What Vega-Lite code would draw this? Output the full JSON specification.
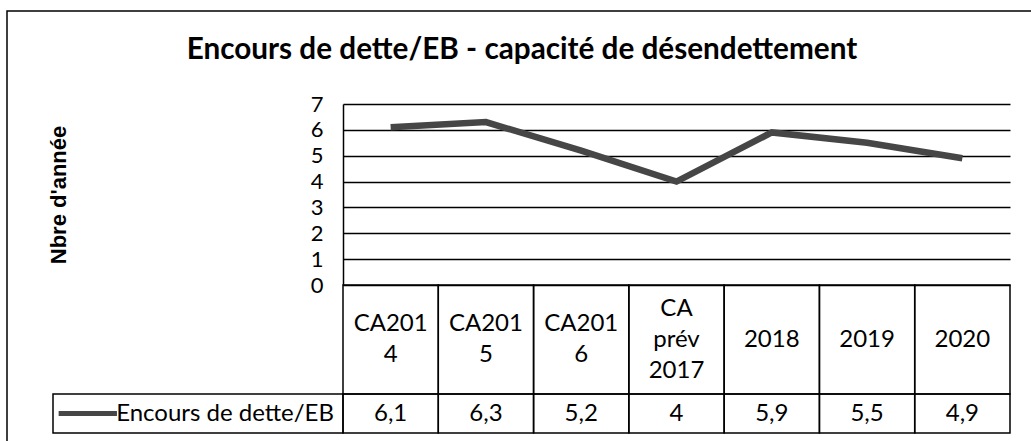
{
  "$schema": "https://vega.github.io/schema/vega-lite/v6.json",
  "width": 1031,
  "height": 441,
  "autosize": {"type": "fit", "contains": "padding"},
  "padding": {"left": 7, "top": 11, "right": -6, "bottom": -6},
  "background": "white",
  "title": {
    "text": "Encours de dette/EB - capacité de désendettement",
    "font": "Lato",
    "fontSize": 29.7,
    "fontWeight": "bold",
    "color": "black",
    "anchor": "middle",
    "frame": "group",
    "baseline": "alphabetic",
    "offset": -78,
    "dx": 0
  },
  "config": {
    "view": {"stroke": "black", "strokeWidth": 1.5},
    "font": "Lato",
    "locale": {"number": {"decimal": ",", "thousands": " ", "grouping": [3], "currency": ["", " €"]}}
  },
  "datasets": {
    "periodes": [
      {"periode": "CA2014", "libelle": "CA201\n4", "valeur": 6.1},
      {"periode": "CA2015", "libelle": "CA201\n5", "valeur": 6.3},
      {"periode": "CA2016", "libelle": "CA201\n6", "valeur": 5.2},
      {"periode": "CA prév 2017", "libelle": "CA\nprév\n2017", "valeur": 4},
      {"periode": "2018", "libelle": "2018", "valeur": 5.9},
      {"periode": "2019", "libelle": "2019", "valeur": 5.5},
      {"periode": "2020", "libelle": "2020", "valeur": 4.9}
    ],
    "legende": [{"serie": "Encours de dette/EB"}]
  },
  "resolve": {
    "scale": {"x": "independent", "y": "independent"},
    "axis": {"x": "independent", "y": "independent"}
  },
  "layer": [
    {
      "data": {"name": "periodes"},
      "mark": {"type": "line", "stroke": "#464646", "strokeWidth": 6.5},
      "encoding": {
        "x": {"field": "periode", "type": "nominal", "axis": null,
          "scale": {"type": "band", "domain": ["CA2014", "CA2015", "CA2016", "CA prév 2017", "2018", "2019", "2020"], "range": [336, 1003], "paddingInner": 0, "paddingOuter": 0}},
        "y": {"field": "valeur", "type": "quantitative",
          "scale": {"domain": [0, 7], "range": [274, 93], "nice": false, "zero": true},
          "axis": {
            "values": [0, 1, 2, 3, 4, 5, 6, 7],
            "offset": -336,
            "grid": true, "gridColor": "black", "gridWidth": 1.5, "gridOpacity": 1,
            "domain": true, "domainColor": "black", "domainWidth": 1.5,
            "ticks": false,
            "labelPadding": 20, "labelFontSize": 22, "labelFont": "Lato", "labelColor": "black",
            "title": "Nbre d'année", "titleFont": "Liberation Sans", "titleFontSize": 22, "titleFontWeight": "bold", "titleColor": "black",
            "titlePadding": 240
          }}
      }
    },
    {
      "data": {"name": "periodes"},
      "mark": {"type": "rect", "fillOpacity": 0, "stroke": "black", "strokeWidth": 1.5},
      "encoding": {
        "x": {"field": "periode", "type": "nominal", "axis": null,
          "scale": {"type": "band", "domain": ["CA2014", "CA2015", "CA2016", "CA prév 2017", "2018", "2019", "2020"], "range": [336, 1003], "paddingInner": 0, "paddingOuter": 0}},
        "y": {"datum": "categories", "type": "nominal", "axis": null,
          "scale": {"type": "band", "domain": ["categories"], "range": [274, 383], "paddingInner": 0, "paddingOuter": 0}}
      }
    },
    {
      "data": {"name": "periodes"},
      "mark": {"type": "text", "fontSize": 24, "lineHeight": 31, "lineBreak": "\n", "font": "Lato", "color": "black", "baseline": "middle",
        "dy": {"expr": "-15.5 * (length(split(datum.libelle, '\\n')) - 1)"}},
      "encoding": {
        "x": {"field": "periode", "type": "nominal", "axis": null,
          "scale": {"type": "band", "domain": ["CA2014", "CA2015", "CA2016", "CA prév 2017", "2018", "2019", "2020"], "range": [336, 1003], "paddingInner": 0, "paddingOuter": 0}},
        "y": {"datum": "categories", "type": "nominal", "axis": null,
          "scale": {"type": "band", "domain": ["categories"], "range": [274, 383], "paddingInner": 0, "paddingOuter": 0}},
        "text": {"field": "libelle", "type": "nominal"}
      }
    },
    {
      "data": {"name": "periodes"},
      "mark": {"type": "rect", "fillOpacity": 0, "stroke": "black", "strokeWidth": 1.5},
      "encoding": {
        "x": {"field": "periode", "type": "nominal", "axis": null,
          "scale": {"type": "band", "domain": ["CA2014", "CA2015", "CA2016", "CA prév 2017", "2018", "2019", "2020"], "range": [336, 1003], "paddingInner": 0, "paddingOuter": 0}},
        "y": {"datum": "valeurs", "type": "nominal", "axis": null,
          "scale": {"type": "band", "domain": ["valeurs"], "range": [383, 422], "paddingInner": 0, "paddingOuter": 0}}
      }
    },
    {
      "data": {"name": "periodes"},
      "mark": {"type": "text", "fontSize": 24, "font": "Lato", "color": "black", "baseline": "middle"},
      "encoding": {
        "x": {"field": "periode", "type": "nominal", "axis": null,
          "scale": {"type": "band", "domain": ["CA2014", "CA2015", "CA2016", "CA prév 2017", "2018", "2019", "2020"], "range": [336, 1003], "paddingInner": 0, "paddingOuter": 0}},
        "y": {"datum": "valeurs", "type": "nominal", "axis": null,
          "scale": {"type": "band", "domain": ["valeurs"], "range": [383, 422], "paddingInner": 0, "paddingOuter": 0}},
        "text": {"field": "valeur", "type": "quantitative", "format": "~g"}
      }
    },
    {
      "data": {"name": "legende"},
      "mark": {"type": "rect", "fillOpacity": 0, "stroke": "black", "strokeWidth": 1.5},
      "encoding": {
        "x": {"field": "serie", "type": "nominal", "axis": null,
          "scale": {"type": "band", "range": [46, 336], "paddingInner": 0, "paddingOuter": 0}},
        "y": {"datum": "valeurs", "type": "nominal", "axis": null,
          "scale": {"type": "band", "domain": ["valeurs"], "range": [383, 422], "paddingInner": 0, "paddingOuter": 0}}
      }
    },
    {
      "data": {"name": "legende"},
      "mark": {"type": "text", "fontSize": 24, "font": "Lato", "color": "black", "baseline": "middle", "align": "right", "dx": -9},
      "encoding": {
        "x": {"field": "serie", "type": "nominal", "axis": null, "bandPosition": 1,
          "scale": {"type": "band", "range": [46, 336], "paddingInner": 0, "paddingOuter": 0}},
        "y": {"datum": "valeurs", "type": "nominal", "axis": null,
          "scale": {"type": "band", "domain": ["valeurs"], "range": [383, 422], "paddingInner": 0, "paddingOuter": 0}},
        "text": {"field": "serie", "type": "nominal"}
      }
    },
    {
      "data": {"name": "legende"},
      "mark": {"type": "point", "shape": "M-1,0L1,0", "size": 3400, "stroke": "#464646", "strokeWidth": 5, "filled": false, "opacity": 1},
      "encoding": {
        "x": {"field": "serie", "type": "nominal", "axis": null, "bandPosition": 0.12,
          "scale": {"type": "band", "range": [46, 336], "paddingInner": 0, "paddingOuter": 0}},
        "y": {"datum": "valeurs", "type": "nominal", "axis": null,
          "scale": {"type": "band", "domain": ["valeurs"], "range": [383, 422], "paddingInner": 0, "paddingOuter": 0}}
      }
    }
  ]
}
